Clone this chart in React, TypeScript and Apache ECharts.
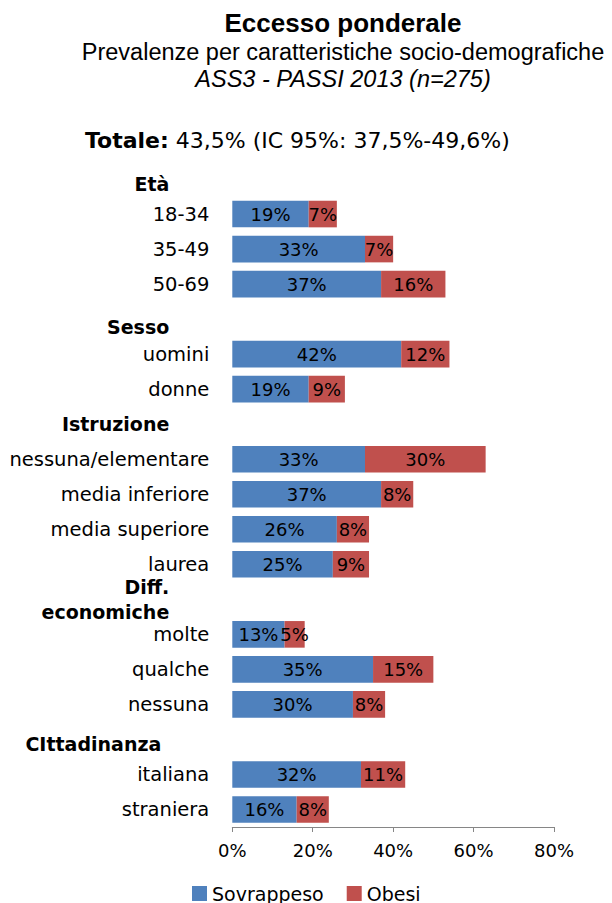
import React, { useEffect, useRef } from "react";
import * as echarts from "echarts";

const categories = [
  "Età", "18-34", "35-49", "50-69",
  "Sesso", "uomini", "donne",
  "Istruzione", "nessuna/elementare", "media inferiore", "media superiore", "laurea",
  "Diff. economiche", "molte", "qualche", "nessuna",
  "CIttadinanza", "italiana", "straniera",
];
const sovrappeso = [null, 19, 33, 37, null, 42, 19, null, 33, 37, 26, 25, null, 13, 35, 30, null, 32, 16];
const obesi = [null, 7, 7, 16, null, 12, 9, null, 30, 8, 8, 9, null, 5, 15, 8, null, 11, 8];
const seriesNames = ["Sovrappeso", "Obesi"];
const xTicks = { min: 0, max: 80, interval: 20 };

const titleText = "Eccesso ponderale";
const subtitleText = "Prevalenze per caratteristiche socio-demografiche";
const sourceText = "ASS3 - PASSI 2013 (n=275)";
const totalLabel = "Totale:";
const totalValue = " 43,5% (IC 95%: 37,5%-49,6%)";

const headerFormats: Record<string, string> = {
  "Età": "{h1|Età}",
  "Sesso": "{h2|Sesso}",
  "Istruzione": "{h3|Istruzione}",
  "Diff. economiche": "{h4|Diff.}\n{h4|economiche}",
  "CIttadinanza": "{h5|CIttadinanza}",
};

const FONT = "DejaVu Sans";
const TITLE_FONT = "Liberation Sans";

export default function App() {
  const ref = useRef<HTMLDivElement>(null);

  useEffect(() => {
    if (!ref.current) return;
    const chart = echarts.init(ref.current, null, { renderer: "svg" });
    const hdr = { fontFamily: FONT, fontWeight: "bold", fontSize: 19, color: "#000" };
    chart.setOption({
      animation: false,
      backgroundColor: "#ffffff",
      graphic: [
        {
          type: "text", x: 343, y: 23,
          style: { text: titleText, font: `bold 26px "${TITLE_FONT}"`, fill: "#000", textAlign: "center", textVerticalAlign: "middle" },
        },
        {
          type: "text", x: 343, y: 52,
          style: { text: subtitleText, font: `23.5px "${TITLE_FONT}"`, fill: "#000", textAlign: "center", textVerticalAlign: "middle" },
        },
        {
          type: "text", x: 343, y: 79,
          style: { text: sourceText, font: `italic 23.5px "${TITLE_FONT}"`, fill: "#000", textAlign: "center", textVerticalAlign: "middle" },
        },
        {
          type: "text", x: 85, y: 140.5,
          style: {
            text: `{b|${totalLabel}}{r|${totalValue}}`,
            textAlign: "left", textVerticalAlign: "middle",
            rich: {
              b: { fontFamily: FONT, fontWeight: "bold", fontSize: 22, fill: "#000" },
              r: { fontFamily: FONT, fontSize: 22, fill: "#000" },
            },
          },
        },
      ],
      legend: {
        data: seriesNames,
        left: 187,
        top: 879,
        itemWidth: 15,
        itemHeight: 15,
        itemGap: 23,
        icon: "rect",
        textStyle: { fontFamily: FONT, fontSize: 19, color: "#000" },
      },
      grid: { left: 232.3, right: 58, top: 161.5, bottom: 76, containLabel: false },
      xAxis: {
        type: "value",
        min: xTicks.min,
        max: xTicks.max,
        interval: xTicks.interval,
        splitLine: { show: false },
        axisLine: { show: true, lineStyle: { color: "#868686", width: 1 } },
        axisTick: { show: true, length: 5, lineStyle: { color: "#868686" } },
        axisLabel: { formatter: "{value}%", margin: 14, fontFamily: FONT, fontSize: 18, color: "#000" },
      },
      yAxis: {
        type: "category",
        inverse: true,
        data: categories,
        axisLine: { show: false },
        axisTick: { show: false },
        axisLabel: {
          interval: 0,
          margin: 23,
          fontFamily: FONT,
          fontSize: 19.5,
          color: "#000",
          formatter: (v: string) => headerFormats[v] ?? v,
          rich: {
            h1: { ...hdr, padding: [10, 40, 0, 0] },
            h2: { ...hdr, padding: [15, 40, 0, 0] },
            h3: { ...hdr, padding: [0, 40, 0, 0] },
            h4: { ...hdr, padding: [0, 40, 0, 0], lineHeight: 25 },
            h5: { ...hdr, padding: [9, 48, 0, 0] },
          },
        },
      },
      series: [
        {
          name: seriesNames[0],
          type: "bar",
          stack: "tot",
          data: sovrappeso,
          barCategoryGap: "24%",
          itemStyle: { color: "#4F81BD" },
          label: { show: true, position: "inside", formatter: "{c}%", color: "#000", fontFamily: FONT, fontSize: 18 },
        },
        {
          name: seriesNames[1],
          type: "bar",
          stack: "tot",
          data: obesi,
          barCategoryGap: "24%",
          itemStyle: { color: "#C0504D" },
          label: { show: true, position: "inside", formatter: "{c}%", color: "#000", fontFamily: FONT, fontSize: 18 },
        },
      ],
    });
    return () => chart.dispose();
  }, []);

  return (
    <div
      ref={ref}
      style={{ position: "fixed", left: 0, top: 0, width: 612, height: 903, background: "#fff" }}
    />
  );
}
